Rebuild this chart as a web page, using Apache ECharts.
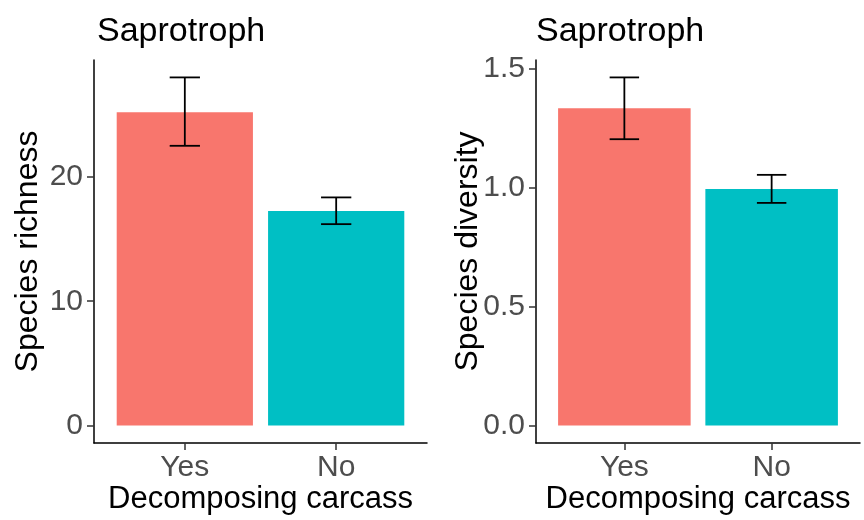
<!DOCTYPE html>
<html><head><meta charset="utf-8">
<script src="https://cdn.jsdelivr.net/npm/echarts@6/dist/echarts.min.js"></script>
<style>html,body{margin:0;padding:0;background:#fff}#c{width:864px;height:520px}</style>
</head><body><div id="c"></div>
<script>
const categories = ['Yes', 'No'];
const categoryPos = [1, 2];
const richnessMean = [25.2, 17.25];
const richnessLow = [22.5, 16.2];
const richnessHigh = [28.0, 18.35];
const diversityMean = [1.335, 0.995];
const diversityLow = [1.205, 0.937];
const diversityHigh = [1.465, 1.055];
const richnessTicks = [0, 10, 20];
const diversityTicks = [0, 0.5, 1.0, 1.5];
const panelTitles = ['Saprotroph', 'Saprotroph'];
const yTitles = ['Species richness', 'Species diversity'];
const xTitle = 'Decomposing carcass';
const barColors = ['#F8766D', '#00BFC4'];

const FONT = 'Liberation Sans, Arial, Helvetica, sans-serif';

function yRange(high) {
  const m = Math.max.apply(null, high);
  return [-0.05 * m, m * 1.05];
}

function barItem(params, api) {
  const x = api.value(0), y = api.value(1);
  const p1 = api.coord([x - 0.45, y]);
  const p2 = api.coord([x + 0.45, 0]);
  return {
    type: 'rect',
    shape: { x: p1[0], y: p1[1], width: p2[0] - p1[0], height: p2[1] - p1[1] },
    style: { fill: barColors[params.dataIndex] }
  };
}
function errItem(params, api) {
  const x = api.value(0), lo = api.value(1), hi = api.value(2);
  const a = api.coord([x - 0.1, hi]);
  const b = api.coord([x + 0.1, lo]);
  const cx = api.coord([x, 0])[0];
  const st = { stroke: '#000', lineWidth: 1.8 };
  return {
    type: 'group',
    children: [
      { type: 'line', shape: { x1: a[0], y1: a[1], x2: b[0], y2: a[1] }, style: st },
      { type: 'line', shape: { x1: a[0], y1: b[1], x2: b[0], y2: b[1] }, style: st },
      { type: 'line', shape: { x1: cx, y1: a[1], x2: cx, y2: b[1] }, style: st }
    ]
  };
}

function xAxisDef(i) {
  return {
    type: 'value', gridIndex: i, min: 0.4, max: 2.6,
    splitLine: { show: false },
    axisLine: { show: true, onZero: false, lineStyle: { color: '#000', width: 1.5 } },
    axisTick: { show: true, customValues: categoryPos, length: 7, lineStyle: { color: '#333', width: 1.5 } },
    axisLabel: { customValues: categoryPos, formatter: v => categories[Math.round(v) - 1], fontSize: 30, color: '#4d4d4d', fontFamily: FONT, margin: 10 },
    name: xTitle, nameLocation: 'middle', nameGap: 41, nameMoveOverlap: false,
    nameTextStyle: { fontSize: 31, color: '#000', fontFamily: FONT }
  };
}
function yAxisDef(i, high, ticks, fmt, gap) {
  const r = yRange(high);
  return {
    type: 'value', gridIndex: i, min: r[0], max: r[1],
    splitLine: { show: false },
    axisLine: { show: true, onZero: false, lineStyle: { color: '#000', width: 1.5 } },
    axisTick: { show: true, customValues: ticks, length: 7, lineStyle: { color: '#333', width: 1.5 } },
    axisLabel: { customValues: ticks, formatter: fmt, fontSize: 30, color: '#4d4d4d', fontFamily: FONT, margin: 11 },
    name: yTitles[i], nameLocation: 'middle', nameGap: gap, nameRotate: 90, nameMoveOverlap: false,
    nameTextStyle: { fontSize: 32, color: '#000', fontFamily: FONT }
  };
}

const chart = echarts.init(document.getElementById('c'), null, { renderer: 'canvas' });
chart.setOption({
  backgroundColor: '#fff',
  animation: false,
  title: [
    { text: panelTitles[0], left: 92, top: 10, textStyle: { fontSize: 34, fontWeight: 'normal', color: '#000', fontFamily: FONT } },
    { text: panelTitles[1], left: 531, top: 10, textStyle: { fontSize: 34, fontWeight: 'normal', color: '#000', fontFamily: FONT } }
  ],
  grid: [
    { left: 94, top: 60, width: 333, height: 383, outerBoundsMode: 'none', containLabel: false },
    { left: 536, top: 60, width: 324, height: 383, outerBoundsMode: 'none', containLabel: false }
  ],
  xAxis: [xAxisDef(0), xAxisDef(1)],
  yAxis: [
    yAxisDef(0, richnessHigh, richnessTicks, v => String(Math.round(v)), 50),
    yAxisDef(1, diversityHigh, diversityTicks, v => v.toFixed(1), 52)
  ],
  series: [
    { type: 'custom', xAxisIndex: 0, yAxisIndex: 0, renderItem: barItem,
      data: categoryPos.map((p, k) => [p, richnessMean[k]]) },
    { type: 'custom', xAxisIndex: 0, yAxisIndex: 0, renderItem: errItem, z: 5,
      data: categoryPos.map((p, k) => [p, richnessLow[k], richnessHigh[k]]) },
    { type: 'custom', xAxisIndex: 1, yAxisIndex: 1, renderItem: barItem,
      data: categoryPos.map((p, k) => [p, diversityMean[k]]) },
    { type: 'custom', xAxisIndex: 1, yAxisIndex: 1, renderItem: errItem, z: 5,
      data: categoryPos.map((p, k) => [p, diversityLow[k], diversityHigh[k]]) }
  ]
});
</script>
</body></html>
